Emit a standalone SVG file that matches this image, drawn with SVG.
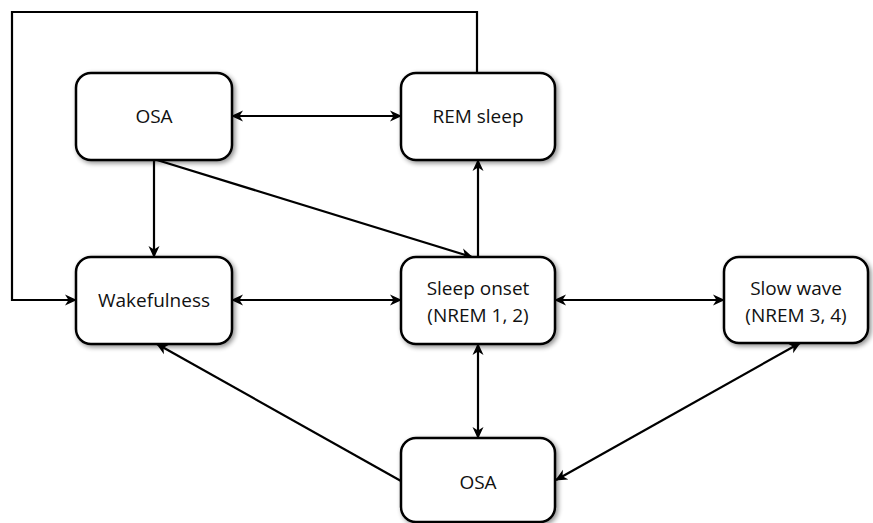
<svg xmlns="http://www.w3.org/2000/svg" width="873" height="523" viewBox="0 0 873 523">
  <defs>
    <style>
      .box { fill: #ffffff; stroke: #000000; stroke-width: 2.5; filter: url(#shadow); }
      .lbl { font-family: "Open Sans", "Liberation Sans", sans-serif; font-size: 19px; fill: #111111; text-anchor: middle; }
      .link { fill: none; stroke: #000000; stroke-width: 2.2; }
      .end { marker-end: url(#arrow); }
      .both { marker-start: url(#arrow); marker-end: url(#arrow); }
    </style>
    <filter id="shadow" x="-10%" y="-10%" width="130%" height="130%">
      <feGaussianBlur in="SourceAlpha" stdDeviation="2.5"/>
      <feOffset dx="2" dy="2" result="blur"/>
      <feComponentTransfer><feFuncA type="linear" slope="0.45"/></feComponentTransfer>
      <feMerge><feMergeNode/><feMergeNode in="SourceGraphic"/></feMerge>
    </filter>
    <marker id="arrow" viewBox="0 0 12 12" refX="11" refY="6" markerWidth="12" markerHeight="12" markerUnits="userSpaceOnUse" orient="auto-start-reverse">
      <path d="M0,0.5 L12,6 L0,11.5 L3.5,6 Z" fill="#000000"/>
    </marker>
  </defs>

  <!-- connectors -->
  <g id="connectors">
    <path class="link end" d="M477,73 V12 H12 V300 H76"/>
    <line class="link both" x1="232" y1="116" x2="401" y2="116"/>
    <line class="link end" x1="154" y1="160" x2="154" y2="257"/>
    <line class="link end" x1="157" y1="160" x2="472" y2="257"/>
    <line class="link end" x1="478" y1="257" x2="478" y2="160"/>
    <line class="link both" x1="232" y1="300" x2="401" y2="300"/>
    <line class="link both" x1="555" y1="300" x2="724" y2="300"/>
    <line class="link both" x1="478" y1="344" x2="478" y2="438"/>
    <line class="link end" x1="401" y1="481" x2="157" y2="344"/>
    <line class="link both" x1="800" y1="343" x2="556" y2="480"/>
  </g>

  <!-- nodes -->
  <g id="osa-top">
    <rect class="box" x="76" y="73" width="156" height="87" rx="15"/>
    <text class="lbl" x="154" y="123">OSA</text>
  </g>
  <g id="rem-sleep">
    <rect class="box" x="401" y="73" width="154" height="87" rx="15"/>
    <text class="lbl" x="478" y="123">REM sleep</text>
  </g>
  <g id="wakefulness">
    <rect class="box" x="76" y="257" width="156" height="87" rx="15"/>
    <text class="lbl" x="154" y="307">Wakefulness</text>
  </g>
  <g id="sleep-onset">
    <rect class="box" x="401" y="257" width="154" height="87" rx="15"/>
    <text class="lbl" x="478" y="295">Sleep onset</text>
    <text class="lbl" x="478" y="322">(NREM 1, 2)</text>
  </g>
  <g id="slow-wave">
    <rect class="box" x="724" y="257" width="144" height="86" rx="15"/>
    <text class="lbl" x="796" y="295">Slow wave</text>
    <text class="lbl" x="796" y="322">(NREM 3, 4)</text>
  </g>
  <g id="osa-bottom">
    <rect class="box" x="401" y="438" width="154" height="84" rx="15"/>
    <text class="lbl" x="478" y="489">OSA</text>
  </g>
</svg>
